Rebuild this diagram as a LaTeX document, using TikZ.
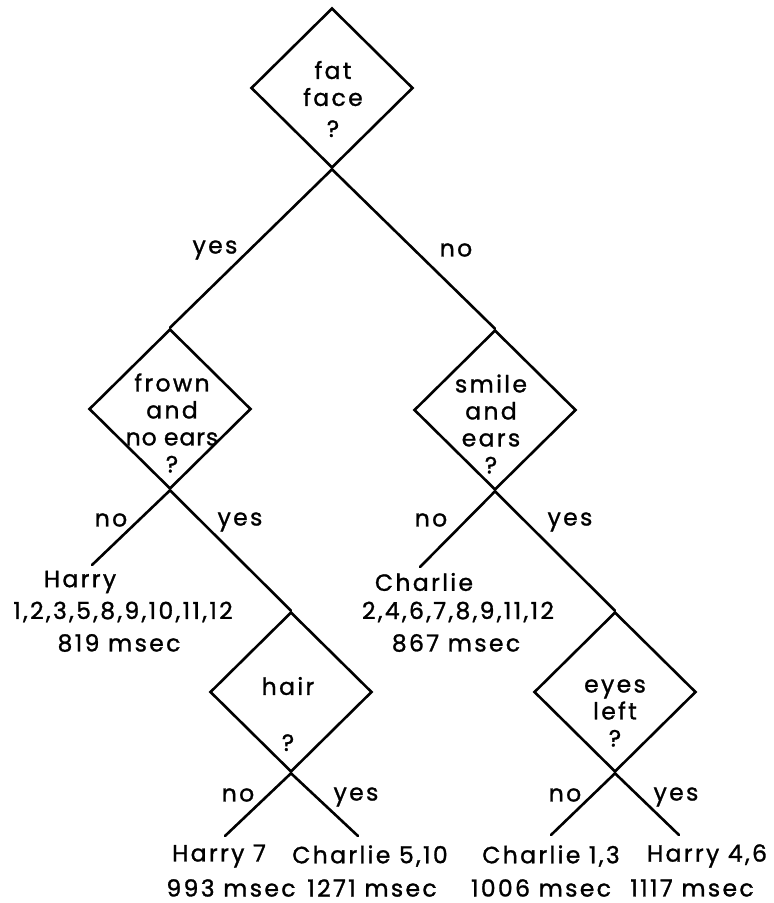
\documentclass[tikz,border=0pt]{standalone}
\usepackage{fontspec}
\setmainfont{Poppins}[LetterSpace=10,FakeBold=1.2]
\usetikzlibrary{shapes.geometric}
\begin{document}
\begin{tikzpicture}[x=1pt,y=-1pt,
  dia/.style={draw,shape=diamond,line width=2.6pt,minimum width=162pt,minimum height=160pt,inner sep=0pt},
  txt/.style={font=\fontsize{23.5}{27}\selectfont,inner sep=0pt,align=center},
  conn/.style={line width=2.6pt,line cap=round}]
\useasboundingbox (0,0) rectangle (774,903);
% decision diamonds
\node[dia] (d1) at (332,88) {};
\node[dia] (d2) at (170,409) {};
\node[dia] (d3) at (495,410) {};
\node[dia] (d4) at (291,692) {};
\node[dia] (d5) at (615,692) {};
% texts inside diamonds
\node[txt] (t1) at (333,99) {fat\\face\\[4pt]?};
\node[txt] (t2) at (172,423) {frown\\and\\{\addfontfeature{LetterSpace=4}no ears}\\?};
\node[txt] (t3) at (491,424) {smile\\and\\ears\\?};
\node[txt] (t4) at (288,714) {hair\\[29pt]?};
\node[txt] (t5) at (615,713) {eyes\\left\\?};
% free ends
\coordinate (c1) at (92,565);
\coordinate (c2) at (420,567);
\coordinate (c3) at (225,836);
\coordinate (c4) at (358,836);
\coordinate (c5) at (551,835);
\coordinate (c6) at (679,835);
% connectors
\draw[conn] (d1.south) -- (d2.north);
\draw[conn] (d1.south) -- (d3.north);
\draw[conn] (d2.south) -- (c1);
\draw[conn] (d2.south) -- (d4.north);
\draw[conn] (d3.south) -- (c2);
\draw[conn] (d3.south) -- (d5.north);
\draw[conn] (d4.south) -- (c3);
\draw[conn] (d4.south) -- (c4);
\draw[conn] (d5.south) -- (c5);
\draw[conn] (d5.south) -- (c6);
% branch labels
\node[txt] (l1) at (215,250) {yes};
\node[txt] (l2) at (456,250) {no};
\node[txt] (l3) at (111,520) {no};
\node[txt] (l4) at (240,522) {yes};
\node[txt] (l5) at (431,520) {no};
\node[txt] (l6) at (570,522) {yes};
\node[txt] (l7) at (238,795) {no};
\node[txt] (l8) at (356,797) {yes};
\node[txt] (l9) at (565,795) {no};
\node[txt] (l10) at (676,797) {yes};
% leaves
\node[txt] (a1) at (80,582) {Harry};
\node[txt] (a2) at (123,612) {1,2,3,5,8,9,10,11,12};
\node[txt] (a3) at (119,643) {819 msec};
\node[txt] (b1) at (424,582) {Charlie};
\node[txt] (b2) at (458,612) {2,4,6,7,8,9,11,12};
\node[txt] (b3) at (456,643) {867 msec};
\node[txt] (e1) at (219,856) {Harry 7};
\node[txt] (e2) at (231,888) {993 msec};
\node[txt] (f1) at (370,856) {Charlie 5,10};
\node[txt] (f2) at (372,888) {1271 msec};
\node[txt] (g1) at (551,856) {Charlie 1,3};
\node[txt] (g2) at (541,888) {1006 msec};
\node[txt] (h1) at (707,856) {Harry 4,6};
\node[txt] (h2) at (692,888) {1117 msec};
\end{tikzpicture}
\end{document}
